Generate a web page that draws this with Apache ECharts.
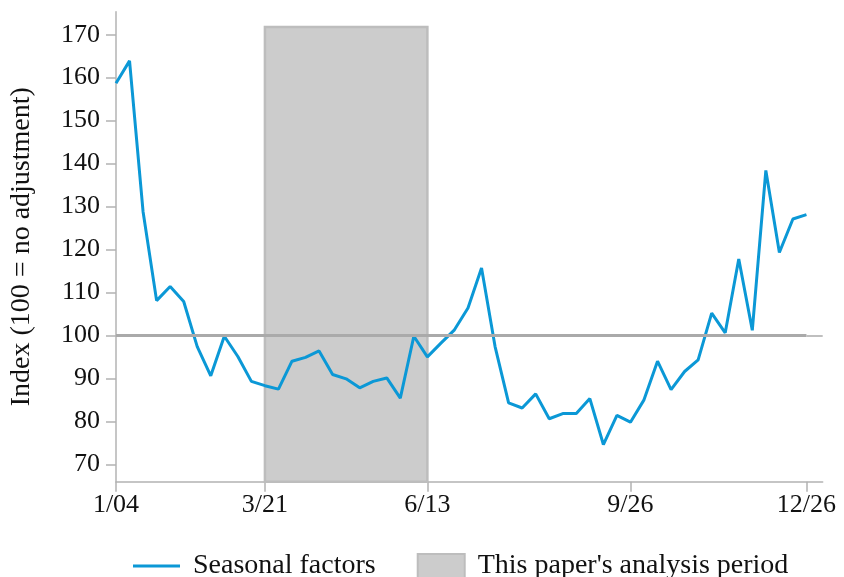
<!DOCTYPE html>
<html>
<head>
<meta charset="utf-8">
<script src="https://cdn.jsdelivr.net/npm/echarts@6/dist/echarts.min.js"></script>
<style>html,body{margin:0;padding:0;background:#fff;}#chart{width:844px;height:577px;}</style>
</head>
<body>
<div id="chart"></div>
<script>
// Weekly seasonal factors, week index 0 = 1/04 ... 51 = 12/26
const seasonalFactors = [158.7,163.9,128.8,108.1,111.4,107.9,97.4,90.6,99.8,95.1,89.3,88.3,87.5,94.0,94.9,96.4,90.9,89.9,87.8,89.3,90.1,85.4,99.8,95.0,98.2,101.3,106.4,115.7,97.4,84.3,83.1,86.4,80.6,81.8,81.8,85.3,74.6,81.4,79.8,85.0,94.0,87.4,91.6,94.3,105.2,100.6,117.8,101.2,138.4,119.3,127.1,128.1];
const xTickPositions = [0, 11, 23, 38, 51];
const xTickLabels = ['1/04', '3/21', '6/13', '9/26', '12/26'];
const yTicks = [70, 80, 90, 100, 110, 120, 130, 140, 150, 160, 170];
const analysisStart = 11;
const analysisEnd = 23;
const analysisTop = 171.8;
const referenceLevel = 100;
const seriesNames = ['Seasonal factors', "This paper's analysis period"];

const FONT = '"Liberation Serif", "DejaVu Serif", serif';
const chart = echarts.init(document.getElementById('chart'));
const lineData = seasonalFactors.map((v, i) => [i, v]);
const axisGray = '#b3b3b3';

chart.setOption({
  animation: false,
  grid: { left: 115, right: 21.3, top: 11.7, bottom: 95.3, containLabel: false },
  legend: {
    top: 552,
    left: 133,
    padding: 0,
    itemWidth: 47,
    itemHeight: 24,
    itemGap: 41,
    textStyle: { fontFamily: FONT, fontSize: 28, color: '#111', padding: [0, 0, 0, 8] },
    data: [
      { name: seriesNames[0], icon: 'path://M0,0 L47,0 L47,3 L0,3 Z', itemStyle: { color: '#0b98d6' } },
      { name: seriesNames[1], icon: 'rect' }
    ]
  },
  xAxis: {
    type: 'value',
    min: 0,
    max: 52.2,
    axisLine: { show: true, lineStyle: { color: axisGray, width: 1.5 } },
    axisTick: { show: true, length: 10, lineStyle: { color: axisGray, width: 1.5 }, customValues: xTickPositions },
    axisLabel: {
      customValues: xTickPositions,
      formatter: v => xTickLabels[xTickPositions.indexOf(v)] || '',
      fontFamily: FONT, fontSize: 26, color: '#111', margin: 10
    },
    splitLine: { show: false }
  },
  yAxis: {
    type: 'value',
    min: 65.95,
    max: 175.35,
    name: 'Index (100 = no adjustment)',
    nameLocation: 'middle',
    nameGap: 80,
    nameTextStyle: { fontFamily: FONT, fontSize: 28, color: '#111' },
    axisLine: { show: true, lineStyle: { color: axisGray, width: 1.5 } },
    axisTick: { show: true, length: 10, lineStyle: { color: axisGray, width: 1.5 }, customValues: yTicks },
    axisLabel: { customValues: yTicks, fontFamily: FONT, fontSize: 26, color: '#111', margin: 16 },
    splitLine: { show: false }
  },
  series: [
    {
      name: seriesNames[1],
      type: 'bar',
      data: [],
      z: 1,
      itemStyle: { color: '#cccccc', borderColor: '#bdbdbd', borderWidth: 2.5 },
      markArea: {
        silent: true,
        itemStyle: { color: '#cccccc', borderColor: '#bdbdbd', borderWidth: 2.5 },
        data: [[{ coord: [analysisStart, analysisTop] }, { coord: [analysisEnd, 65.95] }]]
      }
    },
    {
      name: 'ref',
      type: 'line',
      data: [],
      z: 2,
      markLine: {
        silent: true,
        symbol: 'none',
        label: { show: false },
        data: [
          [{ coord: [0, referenceLevel], lineStyle: { color: '#aaaaaa', width: 3, type: 'solid' } }, { coord: [51, referenceLevel] }],
          [{ coord: [51, referenceLevel], lineStyle: { color: '#aaaaaa', width: 1.5, type: 'solid' } }, { coord: [52.2, referenceLevel] }]
        ]
      }
    },
    {
      name: seriesNames[0],
      type: 'line',
      data: lineData,
      z: 3,
      symbol: 'none',
      lineStyle: { color: '#0b98d6', width: 3 },
      itemStyle: { color: '#0b98d6' }
    }
  ]
});
</script>
</body>
</html>
